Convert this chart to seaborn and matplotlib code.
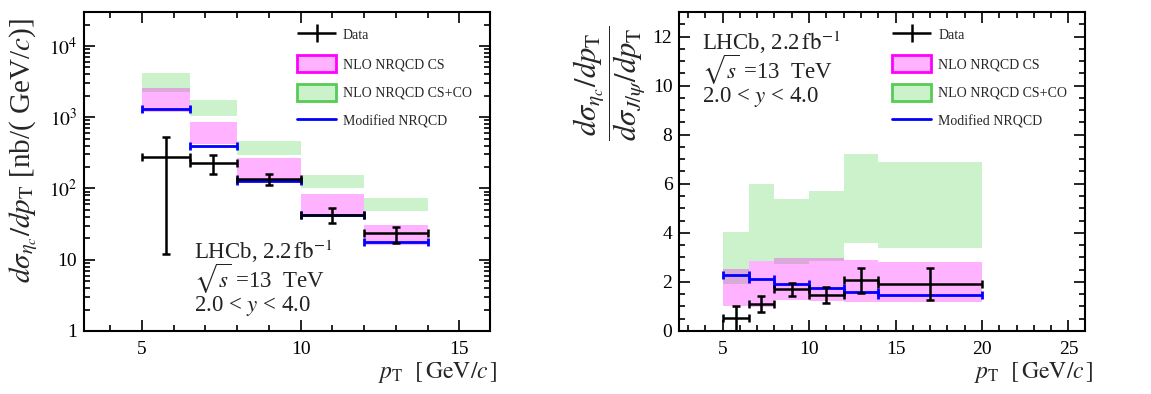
import numpy as np
import matplotlib
matplotlib.use("Agg")
import matplotlib.pyplot as plt
import seaborn as sns
from matplotlib.patches import Patch
from matplotlib.container import ErrorbarContainer
from matplotlib.legend_handler import HandlerErrorbar
from matplotlib.ticker import MultipleLocator, LogLocator, NullFormatter, FixedLocator, FixedFormatter

# ---------------- data: left panel (eta_c cross-section) ----------------
bins_l = [5, 6.5, 8, 10, 12, 14]
data_x_l = [5.75, 7.25, 9, 11, 13]
data_y_l = [275, 226, 134, 43, 23.5]
data_up_l = [258, 73, 24, 9.5, 5]
data_dn_l = [263, 68, 21, 10, 6.5]
cs_lo_l = [1170, 422, 123, 44, 16.3]
cs_hi_l = [2560, 865, 270, 84, 30.4]
csco_lo_l = [2290, 1025, 299, 102, 48]
csco_hi_l = [4150, 1757, 465, 157, 72.4]
mod_l = [1300, 400, 129, 42, 18]

# ---------------- data: right panel (ratio to J/psi) ----------------
bins_r = [5, 6.5, 8, 10, 12, 14, 20]
data_x_r = [5.75, 7.25, 9, 11, 13, 17]
data_y_r = [0.54, 1.10, 1.70, 1.48, 2.07, 1.92]
data_up_r = [0.49, 0.34, 0.27, 0.33, 0.50, 0.66]
data_dn_r = [0.54, 0.34, 0.28, 0.35, 0.52, 0.64]
cs_lo_r = [1.01, 0.99, 1.28, 1.23, 1.20, 1.16]
cs_hi_r = [2.53, 2.86, 2.99, 2.99, 2.90, 2.80]
csco_lo_r = [1.90, 2.86, 2.73, 2.86, 3.58, 3.40]
csco_hi_r = [4.05, 6.00, 5.39, 5.69, 7.22, 6.89]
mod_r = [2.30, 2.11, 1.93, 1.77, 1.60, 1.47]

legend_labels = ["Data", "NLO NRQCD CS", "NLO NRQCD CS+CO", "Modified NRQCD"]
info_lines = [r"LHCb, 2.2$\,\mathrm{fb}^{-1}$", r"$\sqrt{s}$ =13  TeV", r"2.0 < $y$ < 4.0"]

# ---------------- style ----------------
sns.set_theme(style="ticks")
plt.rcParams["font.family"] = ["Liberation Serif", "DejaVu Serif"]
plt.rcParams["mathtext.fontset"] = "stix"
plt.rcParams["axes.linewidth"] = 1.5

pink_face = (1.0, 0.0, 1.0, 0.30)
green_face = (0.2, 0.8, 0.2, 0.25)
pink_edge = "#ff00ff"
green_edge = "#55cc55"

fig = plt.figure(figsize=(11.51, 3.94), dpi=100)
axL = fig.add_axes([0.0730, 0.160, 0.3527, 0.8096])
axR = fig.add_axes([0.5902, 0.160, 0.3527, 0.8096])


def draw(ax, bins, dx, dy, dup, ddn, cslo, cshi, colo, cohi, mod):
    edges = np.array(bins, dtype=float)
    lo = edges[:-1]
    w = np.diff(edges)
    cen = lo + w / 2
    ax.bar(lo, np.array(cohi) - np.array(colo), bottom=colo, width=w, align="edge",
           color=green_face, linewidth=0, zorder=1)
    ax.bar(lo, np.array(cshi) - np.array(cslo), bottom=cslo, width=w, align="edge",
           color=pink_face, linewidth=0, zorder=2)
    ax.errorbar(cen, mod, xerr=w / 2, fmt="none", ecolor="#0000ff", elinewidth=2.0,
                capsize=3, capthick=2.0, zorder=3)
    dx = np.array(dx)
    ax.errorbar(dx, dy, xerr=[dx - lo, lo + w - dx], yerr=[ddn, dup], fmt="none",
                ecolor="black", elinewidth=1.8, capsize=3, capthick=1.8, zorder=4)


draw(axL, bins_l, data_x_l, data_y_l, data_up_l, data_dn_l, cs_lo_l, cs_hi_l,
     csco_lo_l, csco_hi_l, mod_l)
draw(axR, bins_r, data_x_r, data_y_r, data_up_r, data_dn_r, cs_lo_r, cs_hi_r,
     csco_lo_r, csco_hi_r, mod_r)

# ---------------- axes: left ----------------
axL.set_yscale("log")
axL.set_xlim(3.17, 15.97)
axL.set_ylim(1, 3e4)
axL.xaxis.set_major_locator(MultipleLocator(5))
axL.xaxis.set_minor_locator(MultipleLocator(1))
axL.yaxis.set_major_locator(FixedLocator([1, 10, 100, 1000, 10000]))
axL.yaxis.set_major_formatter(FixedFormatter(["1", "10", r"$10^{2}$", r"$10^{3}$", r"$10^{4}$"]))
axL.yaxis.set_minor_locator(LogLocator(base=10, subs=np.arange(2, 10), numticks=20))
axL.yaxis.set_minor_formatter(NullFormatter())

# ---------------- axes: right ----------------
axR.set_xlim(2.5, 25.97)
axR.set_ylim(0, 13)
axR.xaxis.set_major_locator(MultipleLocator(5))
axR.xaxis.set_minor_locator(MultipleLocator(1))
axR.yaxis.set_major_locator(MultipleLocator(2))
axR.yaxis.set_minor_locator(MultipleLocator(0.5))

for ax in (axL, axR):
    for s in ax.spines.values():
        s.set_visible(True)
        s.set_linewidth(1.5)
        s.set_color("black")
    ax.tick_params(which="both", direction="in", top=True, right=True, colors="black",
                   labelsize=14)
    ax.tick_params(which="major", length=8, width=1.2)
    ax.tick_params(which="minor", length=4, width=1.2)
    ax.tick_params(axis="x", which="major", pad=7)
    ax.tick_params(axis="y", which="major", pad=5)
    ax.set_facecolor("white")
    ax.grid(False)
    ax.set_xlabel(r"$p_{\mathrm{T}}$  $\left[\,\mathrm{GeV}/c\,\right]$", fontsize=17,
                  loc="right")
    ax.xaxis.set_label_coords(1.02, -0.13)
    ax.xaxis.label.set_va("center")
    eb = ax.errorbar([], [], xerr=[], yerr=[], fmt="none", ecolor="black",
                     elinewidth=1.8, capsize=3, capthick=1.8)
    handles = [
        eb,
        Patch(facecolor=pink_face, edgecolor=pink_edge, linewidth=2),
        Patch(facecolor=green_face, edgecolor=green_edge, linewidth=2),
        plt.Line2D([], [], color="#0000ff", lw=2),
    ]
    ax.legend(handles, legend_labels, loc="upper left", bbox_to_anchor=(0.525, 0.955),
              frameon=False, fontsize=10, borderpad=0, borderaxespad=0,
              handlelength=2.8, handleheight=1.5, handletextpad=0.5, labelspacing=0.85,
              handler_map={ErrorbarContainer: HandlerErrorbar(xerr_size=1.4, yerr_size=0.65)})

axL.set_ylabel(r"$d\sigma_{\eta_c}/dp_{\mathrm{T}}$ [nb/( GeV/$c$)]", fontsize=21)
axL.yaxis.label.set_va("center")
axL.yaxis.set_label_coords(-0.148, 0.565)

axR.set_ylabel(r"$\dfrac{d\sigma_{\eta_c}/dp_{\mathrm{T}}}{d\sigma_{J/\psi}/dp_{\mathrm{T}}}$",
               fontsize=22)
axR.yaxis.label.set_va("center")
axR.yaxis.set_label_coords(-0.173, 0.777)

for i, t in enumerate(info_lines):
    axL.text(0.271, 0.248 - i * 0.085, t, transform=axL.transAxes, fontsize=16.5,
             va="center", ha="left", color="#222222")
    axR.text(0.055, 0.904 - i * 0.085, t, transform=axR.transAxes, fontsize=16.5,
             va="center", ha="left", color="#222222")

fig.savefig("out.png", dpi=100, facecolor="white")
